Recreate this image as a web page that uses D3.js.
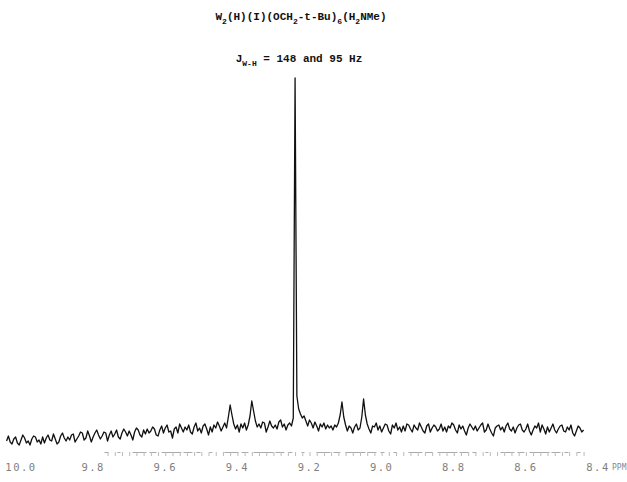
<!DOCTYPE html>
<html><head><meta charset="utf-8">
<script src="https://cdn.jsdelivr.net/npm/d3@7"></script>
<style>body{margin:0;background:#fff}svg{display:block}</style>
</head><body>
<script>
// 1H NMR spectrum digitized on a uniform grid: 10.040 ppm down to 8.440 ppm, 0.005 ppm per sample
const ppmStart = 10.04;
const ppmStep = 0.005;
const intensities = [
  4,9,3,1,6,8,2,0,5,10,7,2,4,0,6,9,8,3,5,1,
  8,2,7,10,5,4,11,6,1,3,9,12,7,4,8,5,10,11,3,6,
  9,13,12,5,7,14,9,3,8,12,15,10,6,9,13,12,4,10,14,8,
  11,15,8,6,12,16,13,9,14,10,5,13,17,15,10,8,15,11,16,12,
  14,18,16,10,9,15,19,12,17,20,13,14,7,16,18,12,21,17,13,18,
  15,20,13,11,18,22,14,17,12,19,21,16,10,18,13,20,17,23,19,14,
  18,22,17,28,40,30,21,16,20,13,21,17,22,15,20,29,44,34,24,18,
  21,17,23,22,13,18,24,19,17,20,16,23,25,18,21,15,20,22,19,27,
  367,49,36,31,27,29,24,19,25,22,17,23,19,14,21,18,22,16,20,17,
  19,15,20,18,22,30,43,28,20,14,19,17,12,18,21,15,17,28,46,30,
  21,16,12,19,18,22,15,19,13,17,21,20,14,11,20,17,22,15,18,13,
  19,14,21,20,16,13,20,17,15,22,18,14,12,19,21,13,17,20,18,14,
  16,21,14,18,13,19,17,22,20,15,12,20,16,19,14,10,17,21,18,15,
  19,14,17,20,22,13,15,21,16,12,9,17,19,20,15,18,13,19,22,16,
  14,18,12,17,20,21,15,13,16,21,14,10,15,19,17,22,13,20,16,11,
  18,13,17,21,15,12,16,19,20,14,13,18,15,20,12,9,14,19,17,13,
  15
];
const tickLabels = ["10.0","9.8","9.6","9.4","9.2","9.0","8.8","8.6","8.4"];
const tickValues = [10.0,9.8,9.6,9.4,9.2,9.0,8.8,8.6,8.4];
const unitLabel = "PPM";
const rulerRange = [9.77, 8.44];

const W = 627, H = 482;
const svg = d3.select("body").append("svg").attr("width", W).attr("height", H);

const x = d3.scaleLinear().domain([10.0, 8.4]).range([21, 598]);
const y = d3.scaleLinear().domain([0, 367]).range([445, 78]);

const mono = "Liberation Mono, DejaVu Sans Mono, monospace";
// titles
const t1 = svg.append("text").attr("x", 301).attr("y", 20).attr("text-anchor", "middle")
  .attr("font-family", mono).attr("font-size", 11).attr("font-weight", "bold").attr("fill", "#111");
t1.append("tspan").text("W");
t1.append("tspan").attr("dy", 4).attr("font-size", 8).text("2");
t1.append("tspan").attr("dy", -4).text("(H)(I)(OCH");
t1.append("tspan").attr("dy", 4).attr("font-size", 8).text("2");
t1.append("tspan").attr("dy", -4).text("-t-Bu)");
t1.append("tspan").attr("dy", 4).attr("font-size", 8).text("6");
t1.append("tspan").attr("dy", -4).text("(H");
t1.append("tspan").attr("dy", 4).attr("font-size", 8).text("2");
t1.append("tspan").attr("dy", -4).text("NMe)");

const t2 = svg.append("text").attr("x", 299).attr("y", 62).attr("text-anchor", "middle")
  .attr("font-family", mono).attr("font-size", 11).attr("font-weight", "bold").attr("fill", "#111");
t2.append("tspan").text("J");
t2.append("tspan").attr("dy", 4).attr("font-size", 8).text("W-H");
t2.append("tspan").attr("dy", -4).text(" = 148 and 95 Hz");

// tick ruler (partially printed)
const rx = x.copy().domain(rulerRange).range(rulerRange.map(x));
const ruler = d3.axisBottom(rx).tickValues(d3.range(9.76, 8.43, -0.02)).tickSize(4).tickSizeOuter(0).tickFormat("");
const rg = svg.append("g").attr("transform", "translate(0,452)").call(ruler);
rg.select(".domain").attr("stroke", "#aaa").attr("stroke-dasharray", "4,9,3,12,14,3,7,5,20,2,9,4");
rg.selectAll(".tick line").attr("stroke", "#bbb");

// tick labels
svg.append("g").selectAll("text").data(tickValues).join("text")
  .attr("x", d => x(d)).attr("y", 471).attr("text-anchor", "middle")
  .attr("font-family", "DejaVu Sans Mono, monospace").attr("font-size", 10.5)
  .attr("letter-spacing", 1.5).attr("fill", "#808080")
  .text((d, i) => tickLabels[i]);
svg.append("text").attr("x", 612).attr("y", 470).attr("text-anchor", "start")
  .attr("font-family", "DejaVu Sans Mono, monospace").attr("font-size", 8)
  .attr("fill", "#888").text(unitLabel);

// spectrum
const data = intensities.map((v, i) => [ppmStart - i * ppmStep, v]);
svg.append("path").datum(data)
  .attr("fill", "none").attr("stroke", "#111").attr("stroke-width", 1.3).attr("stroke-linejoin", "round")
  .attr("d", d3.line().x(d => x(d[0])).y(d => y(d[1])));
</script>
</body></html>
